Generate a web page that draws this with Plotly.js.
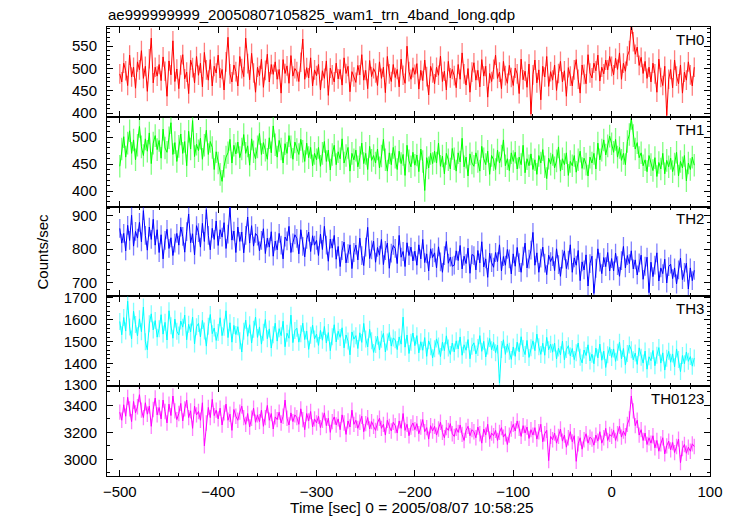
<!DOCTYPE html>
<html>
<head>
<meta charset="utf-8">
<script src="https://cdn.plot.ly/plotly-3.0.1.min.js"></script>
<style>html,body{margin:0;padding:0;background:#fff;}#chart{width:737px;height:516px;}</style>
</head>
<body>
<div id="chart"></div>
<script>
// Time axis: bins start at -500 s, 2 s apart (t = 0 is 2005/08/07 10:58:25)
const tStart = -500;
const tStep = 2;

const panelLabels = ["TH0", "TH1", "TH2", "TH3", "TH0123"];
const colors = ["#ff0000", "#00ff00", "#0000ff", "#00ffff", "#ff00ff"];
const errColors = ["rgba(255,0,0,0.5)", "rgba(0,255,0,0.5)", "rgba(0,0,255,0.5)", "rgba(0,255,255,0.5)", "rgba(255,0,255,0.5)"];
const errs = [22, 21, 28, 39, 57];
const yRanges = [[392, 593], [371, 538], [659, 927], [1295, 1707], [2876, 3543]];
const yDticks = [50, 50, 100, 100, 200];
const yMinor = [10, 10, 20, 20, 100];

const th0 = [
488,470,512,495,462,530,481,503,456,515,
497,540,478,505,449,522,568,468,503,483,
509,473,526,494,438,517,486,562,471,499,
455,508,531,477,492,444,519,502,468,527,
485,512,459,536,497,474,520,461,505,490,
530,479,498,452,515,570,488,470,508,493,
461,527,500,482,568,511,475,534,490,447,
503,484,521,458,496,532,470,509,487,515,
476,498,445,520,489,506,467,529,483,500,
493,471,514,566,476,502,479,524,461,497,
484,509,452,495,478,517,440,501,486,470,
512,477,498,463,524,489,505,448,493,481,
469,507,486,531,474,496,455,518,482,500,
490,462,515,478,503,446,527,488,471,509,
480,498,459,521,485,467,550,493,476,502,
487,511,454,496,473,519,482,441,505,490,
466,503,485,528,471,494,452,516,479,498,
484,457,509,476,535,488,463,500,447,492,
513,474,496,459,520,483,505,436,489,471,
498,530,478,492,455,516,484,467,507,480,
462,501,488,444,521,475,494,458,510,398,
486,519,468,497,430,505,481,527,460,493,
474,508,451,489,516,470,495,438,502,483,
461,497,520,476,445,508,487,466,531,490,
479,512,495,530,472,503,488,519,497,527,
505,486,523,498,535,476,512,494,528,540,
600,560,532,548,507,525,489,516,478,503,
470,512,488,447,521,480,462,505,395,476,
498,457,519,483,466,508,445,492,474,515,
486,461,503
];

const th1 = [
446,478,501,463,489,512,470,495,458,485,
520,482,466,497,474,508,451,489,503,477,
494,461,515,480,472,499,527,468,490,455,
483,506,470,492,447,511,478,531,464,487,
475,498,459,485,513,468,492,481,440,473,
452,431,418,446,463,471,496,452,485,469,
491,462,478,505,470,484,448,497,473,460,
482,507,468,490,476,459,499,471,521,486,
463,494,478,452,488,470,503,482,459,491,
477,468,496,474,455,489,462,481,447,470,
458,481,446,470,492,455,476,439,468,485,
449,473,460,497,452,466,481,437,470,458,
476,445,462,489,451,470,440,483,457,466,
452,478,443,465,496,458,437,471,449,481,
463,440,474,451,468,429,485,456,445,472,
448,467,436,478,455,401,462,443,470,451,
474,452,489,446,465,432,470,458,441,479,
460,437,471,454,498,445,463,428,469,452,
446,471,455,437,483,460,449,474,431,466,
458,440,476,452,465,495,447,460,438,471,
455,472,441,463,449,485,434,460,447,469,
440,458,431,466,452,477,445,423,461,450,
468,443,456,482,437,460,449,471,429,455,
447,466,435,458,474,442,461,450,428,463,
452,470,441,489,458,476,495,467,484,502,
488,472,496,463,481,457,470,449,492,505,
535,503,478,490,462,471,447,458,436,466,
449,438,462,427,453,441,470,432,457,445,
461,436,450,472,428,455,443,466,419,452,
440,463,448
];

const th2 = [
862,818,847,795,871,826,901,809,853,833,
880,822,915,841,797,866,829,889,812,858,
790,843,771,826,859,802,834,781,818,847,
812,866,838,791,852,905,819,846,783,870,
849,806,877,823,918,841,798,862,829,884,
811,858,836,879,802,845,925,827,854,790,
866,823,851,789,841,896,818,870,809,847,
839,795,826,861,787,833,806,852,779,824,
798,847,812,771,836,825,868,790,819,843,
832,786,858,808,777,829,851,793,840,812,
826,781,845,799,868,812,764,830,803,841,
770,808,748,796,821,759,787,813,742,790,
812,768,833,781,751,806,865,772,798,824,
761,805,782,829,754,796,818,743,788,811,
802,757,841,776,793,748,819,781,806,765,
794,752,813,771,829,760,786,735,801,775,
789,744,807,762,731,781,823,758,776,749,
752,795,766,811,741,779,757,803,728,784,
781,738,796,759,822,747,771,716,788,760,
746,790,763,813,735,778,752,799,771,726,
786,749,805,760,731,779,818,744,770,797,
850,752,789,731,773,806,758,724,782,763,
778,736,801,754,719,770,795,742,767,813,
731,774,752,796,706,762,738,783,690,757,
779,668,743,801,761,727,775,748,790,735,
772,735,788,751,719,766,808,744,781,757,
795,741,768,723,759,782,710,749,776,670,
761,718,752,789,705,744,727,770,699,748,
755,712,744,696,738,773,709,731,758,681,
744,706,737
];

const th3 = [
1592,1531,1610,1548,1685,1567,1512,1639,1578,1526,
1604,1545,1658,1499,1462,1581,1627,1553,1596,1520,
1559,1623,1534,1588,1507,1641,1572,1515,1603,1547,
1530,1594,1566,1621,1508,1579,1544,1612,1489,1568,
1583,1521,1597,1548,1479,1570,1624,1536,1562,1505,
1541,1609,1527,1565,1641,1518,1586,1497,1574,1532,
1568,1503,1452,1547,1598,1524,1577,1493,1556,1612,
1519,1567,1488,1542,1601,1513,1558,1470,1531,1584,
1502,1559,1527,1593,1476,1538,1515,1621,1495,1550,
1561,1497,1536,1584,1509,1548,1464,1529,1575,1512,
1534,1482,1551,1506,1569,1493,1541,1458,1522,1577,
1498,1547,1519,1563,1471,1530,1502,1439,1544,1511,
1527,1468,1540,1496,1583,1512,1475,1556,1503,1450,
1486,1524,1461,1510,1537,1452,1498,1541,1479,1516,
1508,1463,1521,1488,1612,1474,1530,1445,1497,1539,
1481,1527,1448,1499,1460,1518,1432,1503,1476,1425,
1467,1512,1479,1431,1497,1458,1526,1470,1441,1493,
1452,1503,1466,1521,1437,1485,1460,1509,1421,1478,
1494,1443,1472,1527,1455,1501,1429,1480,1514,1462,
1496,1449,1484,1310,1463,1508,1441,1489,1455,1418,
1475,1432,1497,1453,1522,1468,1440,1505,1427,1471,
1503,1458,1534,1476,1441,1492,1437,1519,1462,1488,
1451,1493,1420,1470,1439,1502,1416,1463,1481,1434,
1468,1417,1449,1493,1428,1402,1461,1436,1485,1411,
1442,1398,1470,1425,1488,1414,1456,1381,1439,1473,
1427,1466,1409,1451,1497,1420,1468,1392,1445,1484,
1462,1416,1447,1395,1471,1428,1401,1456,1373,1430,
1412,1459,1389,1437,1472,1401,1448,1369,1423,1455,
1405,1443,1384,1466,1418,1362,1436,1398,1452,1409,
1431,1387,1424
];

const th0123 = [
3350,3290,3405,3320,3460,3375,3280,3430,3345,3390,
3480,3365,3310,3420,3335,3395,3245,3370,3455,3330,
3385,3300,3440,3355,3270,3410,3325,3470,3360,3295,
3340,3415,3285,3375,3440,3310,3360,3230,3395,3330,
3355,3290,3420,3100,3270,3385,3310,3445,3325,3365,
3300,3380,3255,3345,3410,3290,3335,3215,3370,3320,
3290,3350,3395,3310,3260,3340,3240,3305,3380,3275,
3330,3280,3365,3245,3310,3400,3290,3340,3225,3315,
3295,3350,3270,3320,3440,3305,3255,3345,3280,3330,
3310,3260,3375,3295,3220,3340,3285,3355,3240,3300,
3270,3320,3235,3290,3345,3250,3305,3200,3280,3315,
3255,3300,3220,3330,3270,3185,3285,3240,3365,3260,
3290,3230,3275,3320,3205,3265,3310,3225,3280,3245,
3215,3270,3305,3230,3260,3180,3290,3245,3210,3275,
3250,3195,3285,3230,3340,3215,3260,3175,3240,3270,
3220,3265,3190,3240,3295,3205,3235,3150,3250,3210,
3245,3180,3225,3275,3200,3160,3235,3215,3265,3190,
3170,3230,3200,3255,3185,3140,3215,3245,3175,3220,
3205,3160,3240,3190,3120,3225,3180,3260,3150,3195,
3175,3215,3140,3200,3235,3165,3190,3110,3180,3225,
3260,3210,3285,3230,3170,3250,3195,3240,3155,3220,
3180,3235,3150,3205,3260,3130,3190,3215,2990,3170,
3145,3195,3120,3170,3225,3135,3180,3090,3160,3205,
3130,3175,2985,3115,3160,3075,3145,3190,3120,3165,
3150,3105,3180,3135,3205,3120,3160,3230,3140,3185,
3170,3215,3140,3190,3245,3165,3210,3175,3260,3300,
3470,3360,3250,3290,3180,3220,3140,3195,3110,3160,
3120,3175,3085,3140,3060,3115,3160,3040,3100,3135,
3070,3125,3050,3095,3150,2975,3080,3110,3045,3090,
3060,3115,3095
];

const series = [th0, th1, th2, th3, th0123];
const FONT = '"Liberation Sans", Arial, Helvetica, sans-serif';

const traces = [];
const layout = {
  width: 737, height: 516,
  margin: {l: 107, r: 27, t: 27, b: 40},
  paper_bgcolor: "#ffffff", plot_bgcolor: "#ffffff",
  showlegend: false,
  font: {family: FONT, size: 15, color: "#000"},
  title: {
    text: "ae999999999_20050807105825_wam1_trn_4band_long.qdp",
    x: 108 / 737, xanchor: "left", xref: "container",
    y: 1 - 15 / 516, yanchor: "middle", yref: "container",
    font: {family: FONT, size: 15, color: "#000"}
  },
  annotations: []
};

const n = series.length;
for (let i = 0; i < n; i++) {
  const sx = i === 0 ? "" : String(i + 1);
  traces.push({
    type: "scatter", mode: "lines",
    x0: tStart, dx: tStep,
    y: series[i],
    xaxis: "x" + sx, yaxis: "y" + sx,
    line: {color: colors[i], width: 1},
    error_y: {type: "constant", value: errs[i], color: errColors[i], thickness: 1.3, width: 0},
    hoverinfo: "skip"
  });
  const top = 1 - i / n;
  const bot = 1 - (i + 1) / n;
  layout["xaxis" + sx] = {
    domain: [0, 1], anchor: "y" + sx, range: [-513, 100],
    showgrid: false, zeroline: false,
    showline: true, linecolor: "#000", linewidth: 1, mirror: "ticks",
    ticks: "inside", ticklen: 6, tickwidth: 1, tickcolor: "#000",
    tick0: 0, dtick: 100,
    minor: {ticks: "inside", ticklen: 3, tickwidth: 1, tickcolor: "#000", tick0: 0, dtick: 20},
    showticklabels: i === n - 1,
    tickfont: {family: FONT, size: 15},
    ticklabelstandoff: 2,
    title: {text: ""}
  };
  layout["yaxis" + sx] = {
    domain: [bot, top], anchor: "x" + sx, range: yRanges[i],
    showgrid: false, zeroline: false,
    showline: true, linecolor: "#000", linewidth: 1, mirror: "ticks",
    ticks: "inside", ticklen: 6, tickwidth: 1, tickcolor: "#000",
    tick0: 0, dtick: yDticks[i],
    minor: {ticks: "inside", ticklen: 3, tickwidth: 1, tickcolor: "#000", tick0: 0, dtick: yMinor[i]},
    tickfont: {family: FONT, size: 15},
    ticklabelstandoff: 6
  };
  layout.annotations.push({
    text: panelLabels[i], xref: "paper", yref: "paper",
    x: 0.993, y: top - 0.004, xanchor: "right", yanchor: "top",
    showarrow: false, font: {family: FONT, size: 15, color: "#000"}
  });
}
layout.annotations.push({
  text: "Counts/sec", xref: "paper", yref: "paper",
  x: (42 - 107) / 603, y: 0.5, xanchor: "center", yanchor: "middle",
  textangle: -90, showarrow: false, font: {family: FONT, size: 15, color: "#000"}
});
layout.annotations.push({
  text: "Time [sec] 0 = 2005/08/07 10:58:25", xref: "paper", yref: "paper",
  x: (412 - 107) / 603, y: (476 - 507.5) / 449, xanchor: "center", yanchor: "middle",
  showarrow: false, font: {family: FONT, size: 15.5, color: "#000"}
});

Plotly.newPlot("chart", traces, layout, {staticPlot: true, displayModeBar: false});
</script>
</body>
</html>
